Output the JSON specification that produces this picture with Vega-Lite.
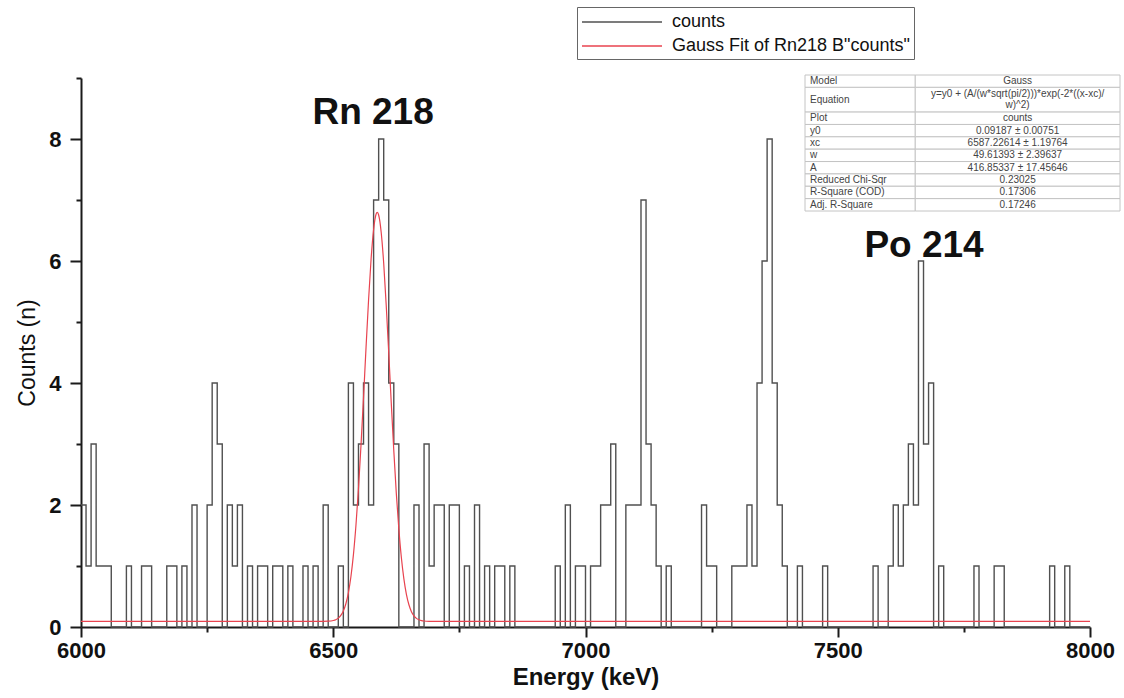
{
  "$schema": "https://vega.github.io/schema/vega-lite/v6.json",
  "width": 1009,
  "height": 549,
  "autosize": {"type": "none"},
  "padding": {"left": 81, "top": 78, "right": 34, "bottom": 71},
  "background": "white",
  "config": {"view": {"stroke": null}, "font": "Liberation Sans"},
  "resolve": {"scale": {"x": "independent", "y": "independent"}, "axis": {"x": "independent", "y": "independent"}},
  "layer": [
    {
      "layer": [
        {
          "data": {"values": [
            {"energy": 6000, "counts": 2}, {"energy": 6010, "counts": 1}, {"energy": 6020, "counts": 3}, {"energy": 6030, "counts": 1}, {"energy": 6040, "counts": 1}, {"energy": 6050, "counts": 1}, {"energy": 6060, "counts": 0}, {"energy": 6070, "counts": 0}, {"energy": 6080, "counts": 0}, {"energy": 6090, "counts": 1},
            {"energy": 6100, "counts": 0}, {"energy": 6110, "counts": 0}, {"energy": 6120, "counts": 1}, {"energy": 6130, "counts": 1}, {"energy": 6140, "counts": 0}, {"energy": 6150, "counts": 0}, {"energy": 6160, "counts": 0}, {"energy": 6170, "counts": 1}, {"energy": 6180, "counts": 1}, {"energy": 6190, "counts": 0},
            {"energy": 6200, "counts": 1}, {"energy": 6210, "counts": 0}, {"energy": 6220, "counts": 2}, {"energy": 6230, "counts": 0}, {"energy": 6240, "counts": 0}, {"energy": 6250, "counts": 2}, {"energy": 6260, "counts": 4}, {"energy": 6270, "counts": 3}, {"energy": 6280, "counts": 0}, {"energy": 6290, "counts": 2},
            {"energy": 6300, "counts": 1}, {"energy": 6310, "counts": 2}, {"energy": 6320, "counts": 0}, {"energy": 6330, "counts": 1}, {"energy": 6340, "counts": 0}, {"energy": 6350, "counts": 1}, {"energy": 6360, "counts": 1}, {"energy": 6370, "counts": 0}, {"energy": 6380, "counts": 1}, {"energy": 6390, "counts": 1},
            {"energy": 6400, "counts": 0}, {"energy": 6410, "counts": 1}, {"energy": 6420, "counts": 0}, {"energy": 6430, "counts": 0}, {"energy": 6440, "counts": 1}, {"energy": 6450, "counts": 0}, {"energy": 6460, "counts": 1}, {"energy": 6470, "counts": 0}, {"energy": 6480, "counts": 2}, {"energy": 6490, "counts": 0},
            {"energy": 6500, "counts": 0}, {"energy": 6510, "counts": 1}, {"energy": 6520, "counts": 0}, {"energy": 6530, "counts": 4}, {"energy": 6540, "counts": 2}, {"energy": 6550, "counts": 3}, {"energy": 6560, "counts": 4}, {"energy": 6570, "counts": 2}, {"energy": 6580, "counts": 7}, {"energy": 6590, "counts": 8},
            {"energy": 6600, "counts": 7}, {"energy": 6610, "counts": 4}, {"energy": 6620, "counts": 3}, {"energy": 6630, "counts": 0}, {"energy": 6640, "counts": 0}, {"energy": 6650, "counts": 0}, {"energy": 6660, "counts": 2}, {"energy": 6670, "counts": 0}, {"energy": 6680, "counts": 3}, {"energy": 6690, "counts": 1},
            {"energy": 6700, "counts": 2}, {"energy": 6710, "counts": 2}, {"energy": 6720, "counts": 0}, {"energy": 6730, "counts": 2}, {"energy": 6740, "counts": 2}, {"energy": 6750, "counts": 0}, {"energy": 6760, "counts": 1}, {"energy": 6770, "counts": 0}, {"energy": 6780, "counts": 2}, {"energy": 6790, "counts": 0},
            {"energy": 6800, "counts": 1}, {"energy": 6810, "counts": 0}, {"energy": 6820, "counts": 1}, {"energy": 6830, "counts": 1}, {"energy": 6840, "counts": 0}, {"energy": 6850, "counts": 1}, {"energy": 6860, "counts": 0}, {"energy": 6870, "counts": 0}, {"energy": 6880, "counts": 0}, {"energy": 6890, "counts": 0},
            {"energy": 6900, "counts": 0}, {"energy": 6910, "counts": 0}, {"energy": 6920, "counts": 0}, {"energy": 6930, "counts": 0}, {"energy": 6940, "counts": 1}, {"energy": 6950, "counts": 0}, {"energy": 6960, "counts": 2}, {"energy": 6970, "counts": 0}, {"energy": 6980, "counts": 1}, {"energy": 6990, "counts": 1},
            {"energy": 7000, "counts": 0}, {"energy": 7010, "counts": 1}, {"energy": 7020, "counts": 1}, {"energy": 7030, "counts": 2}, {"energy": 7040, "counts": 2}, {"energy": 7050, "counts": 3}, {"energy": 7060, "counts": 0}, {"energy": 7070, "counts": 0}, {"energy": 7080, "counts": 2}, {"energy": 7090, "counts": 2},
            {"energy": 7100, "counts": 2}, {"energy": 7110, "counts": 7}, {"energy": 7120, "counts": 3}, {"energy": 7130, "counts": 2}, {"energy": 7140, "counts": 1}, {"energy": 7150, "counts": 0}, {"energy": 7160, "counts": 1}, {"energy": 7170, "counts": 0}, {"energy": 7180, "counts": 0}, {"energy": 7190, "counts": 0},
            {"energy": 7200, "counts": 0}, {"energy": 7210, "counts": 0}, {"energy": 7220, "counts": 0}, {"energy": 7230, "counts": 2}, {"energy": 7240, "counts": 1}, {"energy": 7250, "counts": 1}, {"energy": 7260, "counts": 0}, {"energy": 7270, "counts": 0}, {"energy": 7280, "counts": 0}, {"energy": 7290, "counts": 1},
            {"energy": 7300, "counts": 1}, {"energy": 7310, "counts": 1}, {"energy": 7320, "counts": 2}, {"energy": 7330, "counts": 1}, {"energy": 7340, "counts": 4}, {"energy": 7350, "counts": 6}, {"energy": 7360, "counts": 8}, {"energy": 7370, "counts": 4}, {"energy": 7380, "counts": 2}, {"energy": 7390, "counts": 1},
            {"energy": 7400, "counts": 0}, {"energy": 7410, "counts": 0}, {"energy": 7420, "counts": 1}, {"energy": 7430, "counts": 0}, {"energy": 7440, "counts": 0}, {"energy": 7450, "counts": 0}, {"energy": 7460, "counts": 0}, {"energy": 7470, "counts": 1}, {"energy": 7480, "counts": 0}, {"energy": 7490, "counts": 0},
            {"energy": 7500, "counts": 0}, {"energy": 7510, "counts": 0}, {"energy": 7520, "counts": 0}, {"energy": 7530, "counts": 0}, {"energy": 7540, "counts": 0}, {"energy": 7550, "counts": 0}, {"energy": 7560, "counts": 0}, {"energy": 7570, "counts": 1}, {"energy": 7580, "counts": 0}, {"energy": 7590, "counts": 0},
            {"energy": 7600, "counts": 1}, {"energy": 7610, "counts": 2}, {"energy": 7620, "counts": 1}, {"energy": 7630, "counts": 2}, {"energy": 7640, "counts": 3}, {"energy": 7650, "counts": 2}, {"energy": 7660, "counts": 6}, {"energy": 7670, "counts": 3}, {"energy": 7680, "counts": 4}, {"energy": 7690, "counts": 0},
            {"energy": 7700, "counts": 1}, {"energy": 7710, "counts": 0}, {"energy": 7720, "counts": 0}, {"energy": 7730, "counts": 0}, {"energy": 7740, "counts": 0}, {"energy": 7750, "counts": 0}, {"energy": 7760, "counts": 0}, {"energy": 7770, "counts": 1}, {"energy": 7780, "counts": 0}, {"energy": 7790, "counts": 0},
            {"energy": 7800, "counts": 0}, {"energy": 7810, "counts": 1}, {"energy": 7820, "counts": 1}, {"energy": 7830, "counts": 0}, {"energy": 7840, "counts": 0}, {"energy": 7850, "counts": 0}, {"energy": 7860, "counts": 0}, {"energy": 7870, "counts": 0}, {"energy": 7880, "counts": 0}, {"energy": 7890, "counts": 0},
            {"energy": 7900, "counts": 0}, {"energy": 7910, "counts": 0}, {"energy": 7920, "counts": 1}, {"energy": 7930, "counts": 0}, {"energy": 7940, "counts": 0}, {"energy": 7950, "counts": 1}, {"energy": 7960, "counts": 0}, {"energy": 7970, "counts": 0}, {"energy": 7980, "counts": 0}, {"energy": 7990, "counts": 0},
            {"energy": 8000, "counts": 0}
          ]},
          "mark": {"type": "line", "interpolate": "step-after", "strokeWidth": 1.4},
          "encoding": {
            "x": {"field": "energy", "type": "quantitative", "scale": {"domain": [6000, 8000], "nice": false, "zero": false},
              "axis": {"title": "Energy (keV)", "values": [6000, 6250, 6500, 6750, 7000, 7250, 7500, 7750, 8000],
                "labelExpr": "datum.value % 500 === 0 ? datum.label : ''", "format": "d",
                "tickSize": {"condition": {"test": "datum.value % 500 === 0", "value": 10}, "value": 5},
                "grid": false, "domainColor": "#1a1a1a", "domainWidth": 2, "tickColor": "#1a1a1a", "tickWidth": 2,
                "labelFontSize": 22, "labelFontWeight": "bold", "labelColor": "#111", "labelPadding": 3, "labelFlush": false,
                "titleFontSize": 24, "titleFontWeight": "bold", "titleColor": "#111", "titlePadding": 4}},
            "y": {"field": "counts", "type": "quantitative", "scale": {"domain": [0, 9], "nice": false, "zero": true},
              "axis": {"title": "Counts (n)", "values": [0, 1, 2, 3, 4, 5, 6, 7, 8, 9], "format": "d",
                "labelExpr": "datum.value % 2 === 0 ? datum.label : ''",
                "tickSize": {"condition": {"test": "datum.value % 2 === 0", "value": 11}, "value": 5},
                "grid": false, "domainColor": "#1a1a1a", "domainWidth": 2, "tickColor": "#1a1a1a", "tickWidth": 2,
                "labelFontSize": 22, "labelFontWeight": "bold", "labelColor": "#111", "labelPadding": 9, "labelFlush": false,
                "titleFontSize": 23, "titleFontWeight": "normal", "titleColor": "#111", "titlePadding": 9}},
            "color": {"datum": "counts", "type": "nominal",
              "scale": {"domain": ["counts", "Gauss Fit of Rn218 B\"counts\""], "range": ["#505050", "#e8434f"]},
              "legend": {"title": null, "orient": "none", "legendX": 496, "legendY": -71, "symbolType": "M-4,0H4", "symbolSize": 400,
                "symbolOffset": 30, "symbolStrokeWidth": 1.5, "labelFontSize": 18, "labelFont": "Liberation Sans", "labelColor": "#111", "labelLimit": 500,
                "strokeColor": "#666", "fillColor": "white", "padding": 4, "rowPadding": 4, "labelOffset": 39}}
          }
        },
        {
          "data": {"values": [
            {"energy": 6000, "fit": 0.0919}, {"energy": 6450, "fit": 0.0919}, {"energy": 6480, "fit": 0.0925}, {"energy": 6490, "fit": 0.095},
            {"energy": 6500, "fit": 0.106}, {"energy": 6505, "fit": 0.1196}, {"energy": 6510, "fit": 0.145}, {"energy": 6515, "fit": 0.189},
            {"energy": 6520, "fit": 0.262}, {"energy": 6525, "fit": 0.381}, {"energy": 6530, "fit": 0.561}, {"energy": 6535, "fit": 0.824},
            {"energy": 6540, "fit": 1.187}, {"energy": 6545, "fit": 1.669}, {"energy": 6550, "fit": 2.266}, {"energy": 6555, "fit": 2.979},
            {"energy": 6560, "fit": 3.763}, {"energy": 6565, "fit": 4.584}, {"energy": 6570, "fit": 5.36}, {"energy": 6575, "fit": 6.032},
            {"energy": 6580, "fit": 6.517}, {"energy": 6585, "fit": 6.77}, {"energy": 6587.2, "fit": 6.796}, {"energy": 6590, "fit": 6.754},
            {"energy": 6595, "fit": 6.472}, {"energy": 6600, "fit": 5.963}, {"energy": 6605, "fit": 5.274}, {"energy": 6610, "fit": 4.49},
            {"energy": 6615, "fit": 3.67}, {"energy": 6620, "fit": 2.893}, {"energy": 6625, "fit": 2.191}, {"energy": 6630, "fit": 1.608},
            {"energy": 6635, "fit": 1.139}, {"energy": 6640, "fit": 0.789}, {"energy": 6645, "fit": 0.536}, {"energy": 6650, "fit": 0.365},
            {"energy": 6655, "fit": 0.252}, {"energy": 6660, "fit": 0.183}, {"energy": 6665, "fit": 0.141}, {"energy": 6670, "fit": 0.118},
            {"energy": 6675, "fit": 0.1047}, {"energy": 6680, "fit": 0.098}, {"energy": 6690, "fit": 0.0931}, {"energy": 6700, "fit": 0.092},
            {"energy": 6720, "fit": 0.0919}, {"energy": 8000, "fit": 0.0919}
          ]},
          "mark": {"type": "line", "interpolate": "monotone", "strokeWidth": 1.2},
          "encoding": {
            "x": {"field": "energy", "type": "quantitative"},
            "y": {"field": "fit", "type": "quantitative"},
            "color": {"datum": "Gauss Fit of Rn218 B\"counts\"", "type": "nominal"}
          }
        },
        {
          "data": {"values": [
            {"label": "Rn 218", "energy": 6579, "counts": 8.43},
            {"label": "Po 214", "energy": 7671, "counts": 6.25}
          ]},
          "mark": {"type": "text", "fontSize": 37, "fontWeight": "bold", "font": "Liberation Sans", "color": "#111", "align": "center", "baseline": "middle"},
          "encoding": {
            "x": {"field": "energy", "type": "quantitative"},
            "y": {"field": "counts", "type": "quantitative"},
            "text": {"field": "label", "type": "nominal"}
          }
        }
      ]
    },
    {
      "data": {"values": [
        {"param": "Model", "value": "Gauss", "r0": 0, "r1": 1},
        {"param": "Equation", "value": "y=y0 + (A/(w*sqrt(pi/2)))*exp(-2*((x-xc)/\nw)^2)", "r0": 1, "r1": 3},
        {"param": "Plot", "value": "counts", "r0": 3, "r1": 4},
        {"param": "y0", "value": "0.09187 ± 0.00751", "r0": 4, "r1": 5},
        {"param": "xc", "value": "6587.22614 ± 1.19764", "r0": 5, "r1": 6},
        {"param": "w", "value": "49.61393 ± 2.39637", "r0": 6, "r1": 7},
        {"param": "A", "value": "416.85337 ± 17.45646", "r0": 7, "r1": 8},
        {"param": "Reduced Chi-Sqr", "value": "0.23025", "r0": 8, "r1": 9},
        {"param": "R-Square (COD)", "value": "0.17306", "r0": 9, "r1": 10},
        {"param": "Adj. R-Square", "value": "0.17246", "r0": 10, "r1": 11}
      ]},
      "transform": [{"calculate": "(datum.r0 + datum.r1) / 2", "as": "rmid"}],
      "layer": [
        {
          "mark": {"type": "rect", "fill": "white", "stroke": "#c4c4c4", "strokeWidth": 1},
          "encoding": {
            "x": {"datum": 0, "type": "quantitative", "scale": {"domain": [0, 1], "range": [724, 1039], "nice": false, "zero": false}, "axis": null},
            "x2": {"datum": 0.35},
            "y": {"field": "r0", "type": "quantitative", "scale": {"domain": [0, 11], "range": [-3, 133], "nice": false, "zero": false}, "axis": null},
            "y2": {"field": "r1"}
          }
        },
        {
          "mark": {"type": "rect", "fill": "white", "stroke": "#c4c4c4", "strokeWidth": 1},
          "encoding": {
            "x": {"datum": 0.35, "type": "quantitative"},
            "x2": {"datum": 1},
            "y": {"field": "r0", "type": "quantitative"},
            "y2": {"field": "r1"}
          }
        },
        {
          "mark": {"type": "text", "align": "left", "baseline": "middle", "fontSize": 10, "font": "Liberation Sans", "color": "#444", "dx": 5},
          "encoding": {
            "x": {"datum": 0, "type": "quantitative"},
            "y": {"field": "rmid", "type": "quantitative"},
            "text": {"field": "param", "type": "nominal"}
          }
        },
        {
          "transform": [{"filter": "datum.param !== 'Equation'"}],
          "mark": {"type": "text", "align": "center", "baseline": "middle", "fontSize": 10, "font": "Liberation Sans", "color": "#444"},
          "encoding": {
            "x": {"datum": 0.675, "type": "quantitative"},
            "y": {"field": "rmid", "type": "quantitative"},
            "text": {"field": "value", "type": "nominal"}
          }
        },
        {
          "transform": [{"filter": "datum.param === 'Equation'"}],
          "mark": {"type": "text", "align": "center", "baseline": "middle", "fontSize": 10, "font": "Liberation Sans", "color": "#444", "lineBreak": "\n", "lineHeight": 11, "dy": -5.5},
          "encoding": {
            "x": {"datum": 0.675, "type": "quantitative"},
            "y": {"field": "rmid", "type": "quantitative"},
            "text": {"field": "value", "type": "nominal"}
          }
        }
      ]
    }
  ]
}
